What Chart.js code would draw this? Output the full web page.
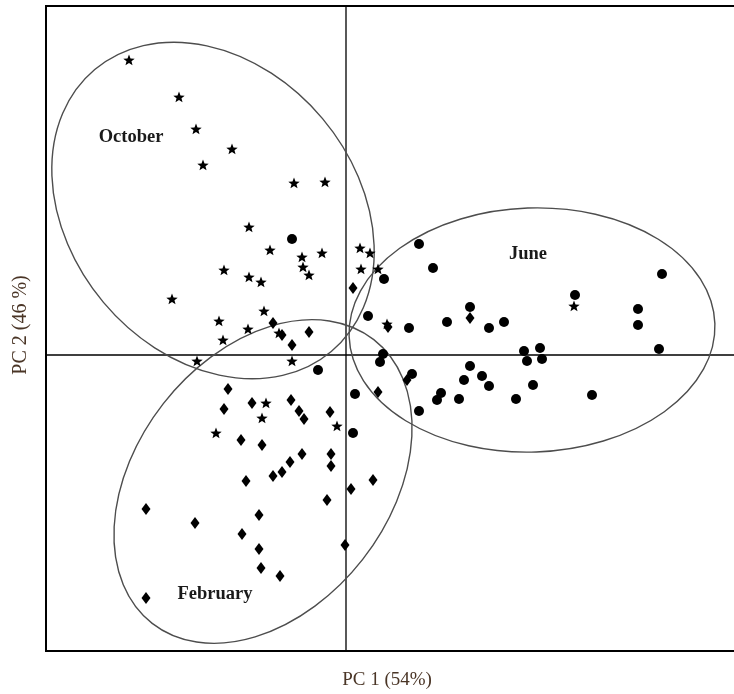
<!DOCTYPE html>
<html>
<head>
<meta charset="utf-8">
<script src="https://cdn.jsdelivr.net/npm/chart.js@4.4.1/dist/chart.umd.min.js"></script>
<style>
  body { margin: 0; background: #fff; }
  #wrap { width: 734px; height: 694px; position: relative; }
</style>
</head>
<body>
<div id="wrap"><canvas id="pca"></canvas></div>
<script>
// scores (PC1, PC2)
var octX = [-2.17, -1.67, -1.50, -1.14, -1.43, -0.52, -0.21, -0.97, -0.76, -0.44, -0.24, -0.43, -0.37, -1.22, -0.97, -0.85,
    0.14, 0.24, 0.15, 0.32, -1.74, -0.82, -1.27, -0.98, -0.67, 0.41, -1.23, -1.49, -0.54, 2.28, -0.80, -0.84, -0.09, -1.30];
var octY = [2.95, 2.58, 2.26, 2.06, 1.90, 1.72, 1.73, 1.28, 1.05, 0.98, 1.02, 0.88, 0.80, 0.85, 0.78, 0.73,
    1.07, 1.02, 0.86, 0.86, 0.56, 0.44, 0.34, 0.26, 0.22, 0.31, 0.15, -0.06, -0.06, 0.49, -0.48, -0.63, -0.71, -0.78];

var junX = [-0.54, 0.73, 0.87, 0.38, 0.22, 0.63, 1.01, 1.24, 1.43, 1.58, 2.29, 3.16, 2.92, 2.92, 3.13, 1.78, 1.94, 1.81,
    1.96, 0.37, 0.34, 1.24, 1.36, 1.18, 1.43, 1.87, 0.66, -0.28, 0.09, 0.95, 0.91, 1.13, 1.70, 2.46, 0.73, 0.07];
var junY = [1.16, 1.11, 0.87, 0.76, 0.39, 0.27, 0.33, 0.48, 0.27, 0.33, 0.60, 0.81, 0.46, 0.30, 0.06, 0.04, 0.07, -0.06,
    -0.04, 0.01, -0.07, -0.11, -0.21, -0.25, -0.31, -0.30, -0.19, -0.15, -0.39, -0.38, -0.45, -0.44, -0.44, -0.40, -0.56, -0.78];

var febX = [0.07, -0.73, -0.64, -0.37, -0.54, 0.42, 1.24, 0.61, 0.32, -1.18, -0.94, -0.55, -1.22, -0.47, -0.42, -0.16,
    -1.05, -0.84, -0.44, -0.15, -0.15, -0.56, -0.64, -0.73, -1.00, 0.27, 0.05, -0.19, -2.00, -0.87, -1.51, -1.04,
    -0.01, -0.87, -0.85, -0.66, -2.00];
var febY = [0.67, 0.32, 0.20, 0.23, 0.10, 0.28, 0.37, -0.25, -0.37, -0.34, -0.48, -0.45, -0.54, -0.56, -0.64, -0.57,
    -0.85, -0.90, -0.99, -0.99, -1.11, -1.07, -1.17, -1.21, -1.26, -1.25, -1.34, -1.45, -1.54, -1.60, -1.68, -1.79,
    -1.90, -1.94, -2.13, -2.21, -2.43];

// group ellipses and their labels
var groupNames = ["October", "June", "February"];
var ellCx = [-1.33, 1.86, -0.83];
var ellCy = [1.445, 0.25, -1.265];
var ellRx = [1.84, 1.83, 1.80];
var ellRy = [1.43, 1.22, 1.265];
var ellAngle = [50, -2, -52];
var labelX = [-2.15, 1.82, -1.31];
var labelY = [2.18, 1.01, -2.39];

var xTitle = "PC 1 (54%)";
var yTitle = "PC 2 (46 %)";

function toPoints(xs, ys) {
    return xs.map(function (x, i) { return { x: x, y: ys[i] }; });
}

function starImage() {
    var c = document.createElement("canvas");
    c.width = 14; c.height = 14;
    var g = c.getContext("2d");
    g.beginPath();
    for (var i = 0; i < 10; i++) {
        var r = i % 2 === 0 ? 6 : 2.6;
        var a = -Math.PI / 2 + i * Math.PI / 5;
        g.lineTo(7 + r * Math.cos(a), 7.5 + r * Math.sin(a));
    }
    g.closePath();
    g.fillStyle = "#000";
    g.fill();
    return c;
}

function diamondImage() {
    var c = document.createElement("canvas");
    c.width = 12; c.height = 14;
    var g = c.getContext("2d");
    g.beginPath();
    g.moveTo(6, 1);
    g.lineTo(10.5, 7);
    g.lineTo(6, 13);
    g.lineTo(1.5, 7);
    g.closePath();
    g.fillStyle = "#000";
    g.fill();
    return c;
}

var decorations = {
    id: "decorations",
    beforeDatasetsDraw: function (chart) {
        var ctx = chart.ctx, a = chart.chartArea;
        var xs = chart.scales.x, ys = chart.scales.y;
        ctx.save();
        // frame (open on the right)
        ctx.strokeStyle = "#000";
        ctx.lineWidth = 2;
        ctx.beginPath();
        ctx.moveTo(chart.width, a.top);
        ctx.lineTo(a.left, a.top);
        ctx.lineTo(a.left, a.bottom);
        ctx.lineTo(chart.width, a.bottom);
        ctx.stroke();
        // zero axes
        ctx.lineWidth = 1.3;
        ctx.beginPath();
        var x0 = xs.getPixelForValue(0), y0 = ys.getPixelForValue(0);
        ctx.moveTo(x0, a.top); ctx.lineTo(x0, a.bottom);
        ctx.moveTo(a.left, y0); ctx.lineTo(chart.width, y0);
        ctx.stroke();
        // ellipses
        ctx.strokeStyle = "#4d4d4d";
        ctx.lineWidth = 1.4;
        for (var i = 0; i < groupNames.length; i++) {
            var cx = xs.getPixelForValue(ellCx[i]);
            var cy = ys.getPixelForValue(ellCy[i]);
            var rx = xs.getPixelForValue(ellCx[i] + ellRx[i]) - cx;
            var ry = ys.getPixelForValue(ellCy[i]) - ys.getPixelForValue(ellCy[i] + ellRy[i]);
            ctx.beginPath();
            ctx.ellipse(cx, cy, rx, ry, ellAngle[i] * Math.PI / 180, 0, 2 * Math.PI);
            ctx.stroke();
        }
        // group labels
        ctx.fillStyle = "#1a1a1a";
        ctx.font = "bold 18.5px 'Liberation Serif', serif";
        ctx.textAlign = "center";
        ctx.textBaseline = "middle";
        for (var j = 0; j < groupNames.length; j++) {
            ctx.fillText(groupNames[j], xs.getPixelForValue(labelX[j]), ys.getPixelForValue(labelY[j]));
        }
        // axis titles
        ctx.fillStyle = "#4a3526";
        ctx.font = "19px 'Liberation Serif', serif";
        ctx.fillText(xTitle, 387, 680);
        ctx.translate(21, 325);
        ctx.rotate(-Math.PI / 2);
        ctx.font = "20px 'Liberation Serif', serif";
        ctx.fillText(yTitle, 0, 0);
        ctx.restore();
    }
};

var star = starImage();
var diamond = diamondImage();

new Chart(document.getElementById("pca").getContext("2d"), {
    type: "scatter",
    data: {
        datasets: [
            { label: "October", data: toPoints(octX, octY), pointStyle: star, pointRadius: 6 },
            { label: "June", data: toPoints(junX, junY), pointStyle: "circle", pointRadius: 5,
              backgroundColor: "#000", borderColor: "#000", borderWidth: 0 },
            { label: "February", data: toPoints(febX, febY), pointStyle: diamond, pointRadius: 6 }
        ]
    },
    options: {
        responsive: true,
        maintainAspectRatio: false,
        animation: false,
        layout: { autoPadding: false, padding: { left: 46, top: 6, right: 0, bottom: 43 } },
        plugins: { legend: { display: false }, tooltip: { enabled: false } },
        scales: {
            x: { type: "linear", min: -3.0, max: 3.88, display: false },
            y: { type: "linear", min: -2.96, max: 3.49, display: false }
        }
    },
    plugins: [decorations]
});
</script>
</body>
</html>
